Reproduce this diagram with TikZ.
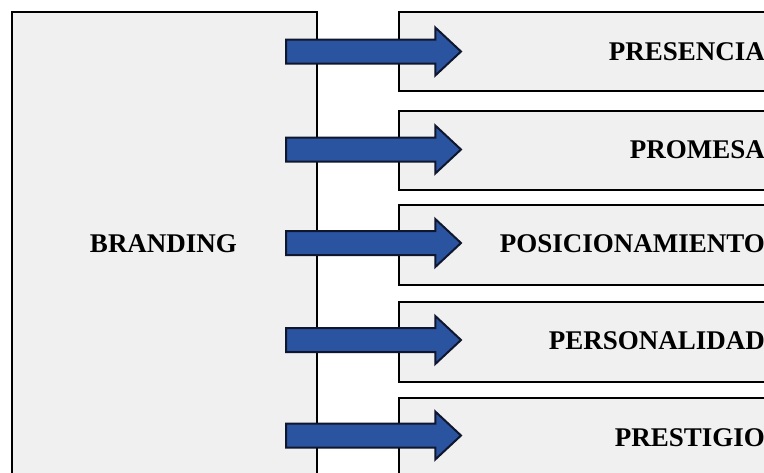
\documentclass[tikz,border=0pt]{standalone}
\usepackage{fontspec}
\setmainfont{Liberation Serif}
\usetikzlibrary{shapes.arrows}
\definecolor{boxfill}{RGB}{240,240,240}
\definecolor{arrowfill}{RGB}{42,84,160}
\definecolor{arrowline}{RGB}{15,22,45}
\begin{document}
\begin{tikzpicture}[x=1pt,y=-1pt,
  box/.style={draw=black, line width=2pt, fill=boxfill, inner sep=0pt},
  lab/.style={font=\fontsize{27}{30}\selectfont\bfseries, inner sep=0pt},
  blockarrow/.style={single arrow, draw=arrowline, line width=2pt, fill=arrowfill,
    minimum height=175pt, minimum width=47pt, single arrow head extend=12pt,
    single arrow tip angle=86, single arrow head indent=0pt,
    inner xsep=0pt, inner ysep=11pt, anchor=tail}]
\useasboundingbox (0,0) rectangle (764,472);
\fill[white] (0,0) rectangle (764,472);
\clip (0,0) rectangle (764,472);
% left box
\node[box, minimum width=305pt, minimum height=500pt, anchor=north west] (brand) at (11,11) {};
\node[lab] (brandlab) at (163.5,243.5) {BRANDING};
% right boxes
\node[box, minimum width=420pt, minimum height=79pt, anchor=north west] (b1) at (398,11) {};
\node[box, minimum width=420pt, minimum height=79pt, anchor=north west] (b2) at (398,109.5) {};
\node[box, minimum width=420pt, minimum height=80pt, anchor=north west] (b3) at (398,203.5) {};
\node[box, minimum width=420pt, minimum height=80pt, anchor=north west] (b4) at (398,300.5) {};
\node[box, minimum width=420pt, minimum height=100pt, anchor=north west] (b5) at (398,397) {};
% labels
\node[lab, anchor=east] (l1) at (765,52) {PRESENCIA};
\node[lab, anchor=east] (l2) at (765,150) {PROMESA};
\node[lab, anchor=east] (l3) at (765,244) {POSICIONAMIENTO};
\node[lab, anchor=east] (l4) at (765,341) {PERSONALIDAD};
\node[lab, anchor=east] (l5) at (765,438) {PRESTIGIO};
% arrows
\node[blockarrow] (a1) at (285,51.5) {};
\node[blockarrow] (a2) at (285,149.5) {};
\node[blockarrow] (a3) at (285,243) {};
\node[blockarrow] (a4) at (285,340) {};
\node[blockarrow] (a5) at (285,435.5) {};
\end{tikzpicture}
\end{document}
